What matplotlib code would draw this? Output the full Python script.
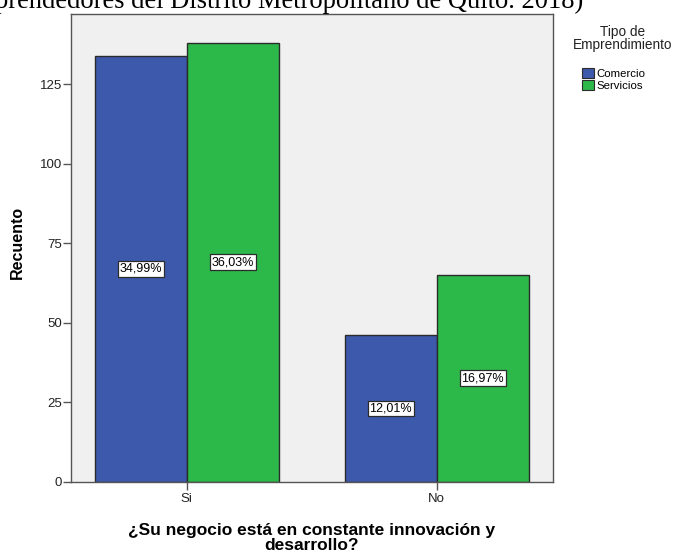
import numpy as np
import matplotlib
matplotlib.use("Agg")
import matplotlib.pyplot as plt
from matplotlib.patches import Patch

plt.rcParams["font.family"] = ["Liberation Sans", "DejaVu Sans"]

categories = ["Si", "No"]
series = ["Comercio", "Servicios"]
comercio = [134, 46]
servicios = [138, 65]
pct_labels = [["34,99%", "12,01%"], ["36,03%", "16,97%"]]

colors = ["#3D59AB", "#2DB84A"]
edge = "#2b2b2b"

fig = plt.figure(figsize=(6.74, 5.52), dpi=100)
ax = fig.add_axes([0.1053, 0.1274, 0.7151, 0.8472])
ax.set_facecolor("#F0F0F0")

x = np.arange(len(categories))
width = 0.368
for i, (vals, col) in enumerate(zip([comercio, servicios], colors)):
    pos = x + (i - 0.5) * width
    ax.bar(pos, vals, width=width, color=col, edgecolor=edge, linewidth=1.0, zorder=2)
    for p, v, lab in zip(pos, vals, pct_labels[i]):
        ax.text(p, v / 2, lab, ha="center", va="center", fontsize=9, color="black",
                zorder=3,
                bbox=dict(boxstyle="square,pad=0.15", facecolor="white",
                          edgecolor=edge, linewidth=0.9))

ax.set_xlim(-0.463, 1.465)
ax.set_ylim(0, 147.1)
ax.set_xticks(x)
ax.set_xticklabels(categories)
ax.set_yticks([0, 25, 50, 75, 100, 125])
ax.tick_params(axis="both", direction="out", length=6, width=1, color="#555555",
               labelsize=9.5, labelcolor="#222222", pad=0.5)
ax.tick_params(axis="x", length=6, pad=2)
for s in ax.spines.values():
    s.set_color("#555555")
    s.set_linewidth(1.0)

ax.set_ylabel("Recuento", fontsize=11.5, fontweight="bold")
ax.yaxis.set_label_coords(-0.0954, 0.5125)
ax.set_xlabel("¿Su negocio está en constante innovación y\ndesarrollo?", fontsize=12.5,
              fontweight="bold", labelpad=13, linespacing=1.05)

# legend block to the right of the plot
fig.text(0.924, 0.955, "Tipo de\nEmprendimiento", ha="center", va="top",
         fontsize=9.8, color="#222222", multialignment="center", linespacing=0.95)
handles = [Patch(facecolor=c, edgecolor=edge, linewidth=0.8, label=s)
           for c, s in zip(colors, series)]
fig.legend(handles=handles, loc="upper left", bbox_to_anchor=(0.864, 0.877),
           frameon=False, fontsize=8.2, handlelength=1.05, handleheight=0.95,
           handletextpad=0.2, labelspacing=0.1, borderpad=0, borderaxespad=0)

# caption line partly cut off at the top and left edges
fig.text(-0.0074, 1 - 8 / 552, "prendedores del Distrito Metropolitano de Quito. 2018)",
         ha="left", va="baseline", fontsize=19.1, family="Liberation Serif", color="black")

fig.savefig("out.png", dpi=100)
